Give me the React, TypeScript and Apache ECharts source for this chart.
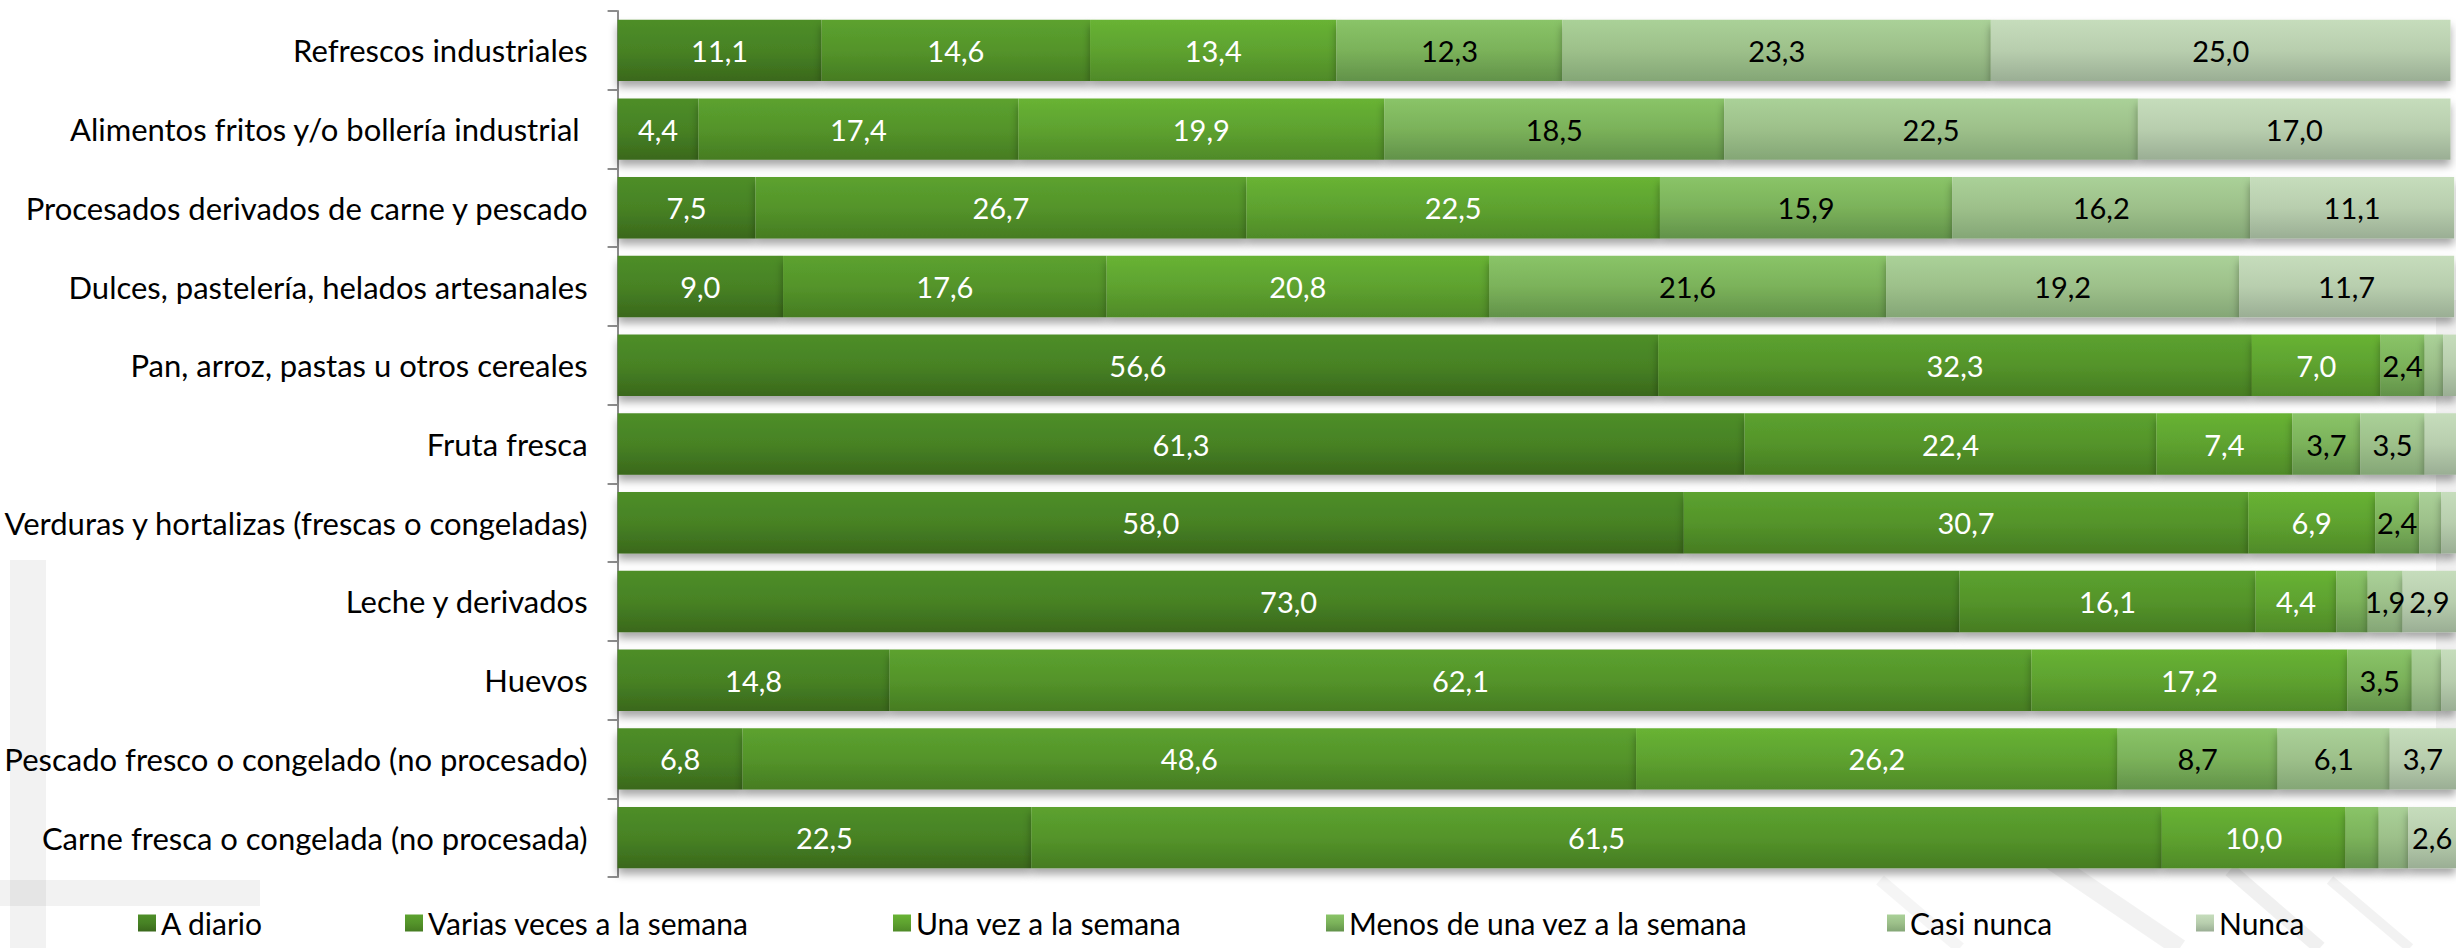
import React, { useEffect, useRef } from "react";
import * as echarts from "echarts";

const categories = [
  "Refrescos industriales",
  "Alimentos fritos y/o bollería industrial ",
  "Procesados derivados de carne y pescado",
  "Dulces, pastelería, helados artesanales",
  "Pan, arroz, pastas u otros cereales",
  "Fruta fresca",
  "Verduras y hortalizas (frescas o congeladas)",
  "Leche y derivados",
  "Huevos",
  "Pescado fresco o congelado (no procesado)",
  "Carne fresca o congelada (no procesada)",
];

const seriesNames = [
  "A diario",
  "Varias veces a la semana",
  "Una vez a la semana",
  "Menos de una vez a la semana",
  "Casi nunca",
  "Nunca",
];

const aDiario = [11.1, 4.4, 7.5, 9.0, 56.6, 61.3, 58.0, 73.0, 14.8, 6.8, 22.5];
const variasVeces = [14.6, 17.4, 26.7, 17.6, 32.3, 22.4, 30.7, 16.1, 62.1, 48.6, 61.5];
const unaVez = [13.4, 19.9, 22.5, 20.8, 7.0, 7.4, 6.9, 4.4, 17.2, 26.2, 10.0];
const menosDeUnaVez = [12.3, 18.5, 15.9, 21.6, 2.4, 3.7, 2.4, 1.7, 3.5, 8.7, 1.8];
const casiNunca = [23.3, 22.5, 16.2, 19.2, 1.0, 3.5, 1.2, 1.9, 1.6, 6.1, 1.6];
const nunca = [25.0, 17.0, 11.1, 11.7, 0.7, 1.7, 0.8, 2.9, 0.8, 3.7, 2.6];

const seriesValues = [aDiario, variasVeces, unaVez, menosDeUnaVez, casiNunca, nunca];

const gradients = [
  ["#4e8e28", "#478224", "#3a681c"],
  ["#5ca22f", "#54942a", "#467c22"],
  ["#68b334", "#5ea22f", "#4f8a28"],
  ["#8ac468", "#7bb25a", "#62924a"],
  ["#aad198", "#9dc08a", "#84a676"],
  ["#c6ddbc", "#b8ceae", "#9aae94"],
];
const labelColors = ["#ffffff", "#ffffff", "#ffffff", "#000000", "#000000", "#000000"];
const legendLefts = [138, 405, 893, 1326, 1887, 2196];

const FONT = "Lato, 'Liberation Sans', sans-serif";

export default function App() {
  const ref = useRef<HTMLDivElement>(null);
  useEffect(() => {
    if (!ref.current) return;
    const chart = echarts.init(ref.current, null, { renderer: "svg" });
    const series = seriesNames.map((name, i) => ({
      name,
      type: "bar",
      stack: "total",
      barCategoryGap: "22%",
      data: seriesValues[i],
      itemStyle: {
        color: new echarts.graphic.LinearGradient(0, 0, 0, 1, [
          { offset: 0, color: gradients[i][0] },
          { offset: 0.5, color: gradients[i][1] },
          { offset: 1, color: gradients[i][2] },
        ]),
        shadowColor: "rgba(0,0,0,0.35)",
        shadowBlur: 8,
        shadowOffsetY: 6,
      },
      label: {
        show: true,
        position: "inside",
        color: labelColors[i],
        fontSize: 29,
        fontFamily: FONT,
        formatter: (p: any) => (p.value >= 1.85 ? p.value.toFixed(1).replace(".", ",") : ""),
      },
    }));
    const legends = seriesNames.map((name, i) => ({
      data: [name],
      left: legendLefts[i],
      top: 908,
      icon: "rect",
      itemWidth: 18,
      itemHeight: 17,
      itemGap: 0,
      padding: 0,
      selectedMode: false,
      textStyle: { fontSize: 30, color: "#000", fontFamily: FONT },
    }));
    chart.setOption({
      animation: false,
      backgroundColor: "#ffffff",
      graphic: [
        { type: "rect", z: -10, shape: { x: 10, y: 560, width: 36, height: 388 }, style: { fill: "rgba(0,0,0,0.05)" } },
        { type: "rect", z: -10, shape: { x: 0, y: 880, width: 260, height: 26 }, style: { fill: "rgba(0,0,0,0.05)" } },
        { type: "rect", z: -10, shape: { x: 2436, y: 300, width: 20, height: 440 }, style: { fill: "rgba(0,0,0,0.05)" } },
        { type: "line", z: -10, shape: { x1: 2050, y1: 860, x2: 2180, y2: 948 }, style: { stroke: "rgba(0,0,0,0.05)", lineWidth: 18 } },
        { type: "line", z: -10, shape: { x1: 2230, y1: 870, x2: 2320, y2: 948 }, style: { stroke: "rgba(0,0,0,0.06)", lineWidth: 14 } },
        { type: "line", z: -10, shape: { x1: 2330, y1: 880, x2: 2410, y2: 948 }, style: { stroke: "rgba(0,0,0,0.05)", lineWidth: 10 } },
        { type: "line", z: -10, shape: { x1: 1880, y1: 880, x2: 1960, y2: 948 }, style: { stroke: "rgba(0,0,0,0.04)", lineWidth: 12 } },
      ],
      grid: { left: 609, right: -3, top: 11, bottom: 71, containLabel: false },
      legend: legends,
      xAxis: { type: "value", min: 0, max: 100, show: false },
      yAxis: {
        type: "category",
        inverse: true,
        data: categories,
        axisLine: { show: true, lineStyle: { color: "#8c8c8c", width: 2 } },
        axisTick: { show: true, length: 10, lineStyle: { color: "#8c8c8c", width: 2 } },
        axisLabel: { fontSize: 31, color: "#000", margin: 30, fontFamily: FONT },
        splitLine: { show: false },
      },
      series,
    });
    return () => chart.dispose();
  }, []);
  return (
    <div
      ref={ref}
      style={{ position: "absolute", left: 0, top: 0, width: 2456, height: 948 }}
    />
  );
}
